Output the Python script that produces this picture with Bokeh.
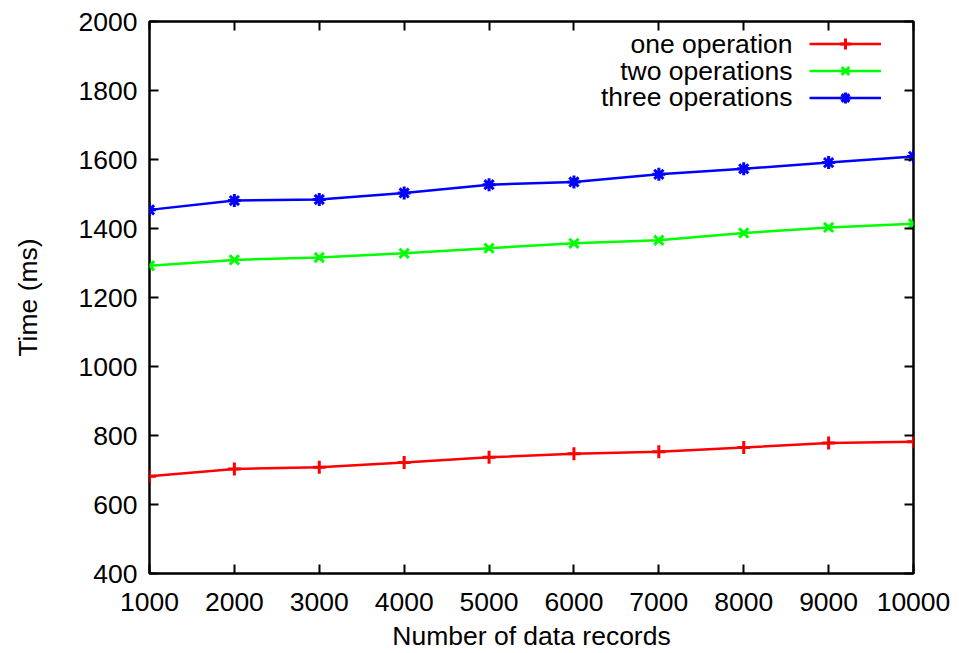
from bokeh.plotting import figure
from bokeh.models import (Range1d, LinearAxis, FixedTicker, Legend, LegendItem,
                          Label, CustomJSTickFormatter)
from bokeh.embed import file_html
from bokeh.resources import INLINE

records = [1000, 2000, 3000, 4000, 5000, 6000, 7000, 8000, 9000, 10000]
one_op = [682, 703, 708, 722, 737, 747, 753, 765, 778, 782]
two_ops = [1292, 1309, 1316, 1328, 1343, 1357, 1366, 1387, 1403, 1414]
three_ops = [1454, 1481, 1484, 1503, 1527, 1535, 1557, 1573, 1591, 1609]
series_names = ["one operation", "two operations", "three operations"]
x_ticks = [1000, 2000, 3000, 4000, 5000, 6000, 7000, 8000, 9000, 10000]
y_ticks = [400, 600, 800, 1000, 1200, 1400, 1600, 1800, 2000]

FONT = "Liberation Sans"
FS = "26.5px"

p = figure(width=959, height=653, output_backend="svg", toolbar_location=None,
           x_range=Range1d(1000, 10000), y_range=Range1d(400, 2000),
           min_border_left=149, min_border_right=46, min_border_top=21,
           min_border_bottom=80, x_axis_label="Number of data records",
           y_axis_label="Time (ms)")
p.background_fill_color = "white"
p.border_fill_color = "white"
p.outline_line_color = "black"
p.outline_line_width = 2.5
p.xgrid.visible = False
p.ygrid.visible = False

def style_axis(ax, ticks, show_labels=True):
    ax.ticker = FixedTicker(ticks=ticks)
    ax.axis_line_color = None
    ax.major_tick_in = 9
    ax.major_tick_out = 0
    ax.major_tick_line_width = 2
    ax.major_tick_line_color = "black"
    ax.minor_tick_line_color = None
    ax.major_label_text_font = FONT
    ax.major_label_text_font_size = FS
    ax.major_label_text_color = "black"
    ax.axis_label_text_font = FONT
    ax.axis_label_text_font_size = FS
    ax.axis_label_text_font_style = "normal"
    ax.axis_label_text_color = "black"
    if not show_labels:
        ax.formatter = CustomJSTickFormatter(code="return ''")
        ax.major_label_standoff = 0

style_axis(p.xaxis[0], x_ticks)
style_axis(p.yaxis[0], y_ticks)
p.xaxis[0].major_label_standoff = 19
p.xaxis[0].axis_label_standoff = 7
p.yaxis[0].major_label_standoff = 12
p.yaxis[0].axis_label_standoff = 33

ax_r = LinearAxis()
style_axis(ax_r, y_ticks, show_labels=False)
p.add_layout(ax_r, "right")
ax_t = LinearAxis()
style_axis(ax_t, x_ticks, show_labels=False)
p.add_layout(ax_t, "above")

colors = ["#ff0000", "#00ff00", "#0000ff"]
markers = ["cross", "x", "asterisk"]
data = [one_op, two_ops, three_ops]
items = []
for name, ys, c, m in zip(series_names, data, colors, markers):
    ln = p.line(records, ys, line_color=c, line_width=2.5)
    mk = p.scatter(records, ys, marker=m, size=13, line_color=c, line_width=3,
                   fill_color=None)
    items.append(LegendItem(label=" ", renderers=[ln, mk]))

legend = Legend(items=items, location=(660, 462), padding=0, margin=0,
                spacing=0, glyph_width=72, glyph_height=27, label_height=27,
                label_width=0, label_standoff=0, border_line_color=None,
                background_fill_alpha=0, label_text_font_size="10px")
p.add_layout(legend, "center")

for name, yy in zip(series_names, [529.7, 503, 476.3]):
    p.add_layout(Label(x=643, y=yy, x_units="screen", y_units="screen", text=name,
                       text_align="right", text_baseline="middle",
                       text_font=FONT, text_font_size=FS, text_color="black"))

open("out.html", "w").write(file_html(p, INLINE))
